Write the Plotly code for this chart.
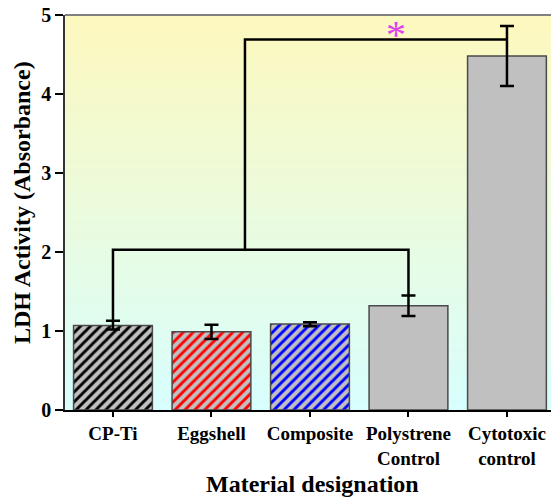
import plotly.graph_objects as go

# LDH release per material (absorbance), mean with upper/lower error
categories = ["CP-Ti", "Eggshell", "Composite", "Polystrene<br>Control", "Cytotoxic<br>control"]
ldh_mean = [1.07, 0.99, 1.09, 1.32, 4.48]
err_plus = [0.06, 0.09, 0.02, 0.13, 0.38]
err_minus = [0.05, 0.09, 0.03, 0.13, 0.38]
hatch_shape = ["/", "/", "/", "", ""]
hatch_color = ["#000000", "#ff0000", "#0000ff", "#000000", "#000000"]
y_ticks = [0, 1, 2, 3, 4, 5]

# significance bracket: the test materials vs. the cytotoxic control
bracket_left, bracket_right = 0, 3
bracket_low = 2.03
bracket_high = 4.69
stem_pos = 1.34
target_pos = 4
star_pos = 2.87
star_y = 4.86

W, H = 551, 497
L, R, T, B = 65, 0, 15, 87
FONT = "Liberation Serif, Times New Roman, serif"

xpos = list(range(len(categories)))

fig = go.Figure()

fig.add_trace(go.Bar(
    x=xpos, y=ldh_mean, width=0.8,
    marker=dict(
        color="#c0c0c0",
        line=dict(color="#4a4a4a", width=1.5),
        pattern=dict(shape=hatch_shape, fgcolor=hatch_color, bgcolor="#c0c0c0",
                     fgopacity=1, size=7, solidity=0.42),
    ),
    error_y=dict(type="data", array=err_plus, arrayminus=err_minus,
                 color="#000000", thickness=2.5, width=7),
    showlegend=False, hoverinfo="skip",
))

# lower bracket joining CP-Ti and Polystrene control
lo_top_left = ldh_mean[bracket_left] + err_plus[bracket_left]
lo_top_right = ldh_mean[bracket_right] + err_plus[bracket_right]
fig.add_trace(go.Scatter(
    x=[bracket_left, bracket_left, bracket_right, bracket_right],
    y=[lo_top_left, bracket_low, bracket_low, lo_top_right],
    mode="lines", line=dict(color="#000000", width=2.5),
    showlegend=False, hoverinfo="skip",
))
# stem up to the cytotoxic control
fig.add_trace(go.Scatter(
    x=[stem_pos, stem_pos, target_pos],
    y=[bracket_low, bracket_high, bracket_high],
    mode="lines", line=dict(color="#000000", width=2.5),
    showlegend=False, hoverinfo="skip",
))

# vertical yellow -> cyan background gradient
top_rgb = (253, 248, 190)
bot_rgb = (216, 254, 253)
n = 90
shapes = []
for i in range(n):
    f = i / (n - 1)
    c = tuple(round(top_rgb[k] + (bot_rgb[k] - top_rgb[k]) * f) for k in range(3))
    shapes.append(dict(
        type="rect", xref="paper", yref="paper", layer="below",
        x0=0, x1=1, y0=1 - (i + 1) / n, y1=1 - i / n + 0.002,
        fillcolor="rgb(%d,%d,%d)" % c, line=dict(width=0),
    ))
# top frame line
shapes.append(dict(type="line", xref="paper", yref="paper", x0=0, x1=1, y0=1, y1=1,
                   line=dict(color="#808080", width=2), layer="above"))

pw = W - L - R
ph = H - T - B
annotations = [
    dict(text="*", x=star_pos, y=star_y, xref="x", yref="y", showarrow=False,
         font=dict(family=FONT, size=40, color="#e040f0"), yanchor="middle", yshift=-8),
    dict(text="<b>LDH Activity (Absorbance)</b>", textangle=-90, showarrow=False,
         xref="paper", yref="paper", x=(22 - L) / pw, y=(H - B - 203) / ph,
         xanchor="center", yanchor="middle",
         font=dict(family=FONT, size=24, color="#000000")),
    dict(text="<b>Material designation</b>", showarrow=False,
         xref="paper", yref="paper", x=(312 - L) / pw, y=(H - B - 484) / ph,
         xanchor="center", yanchor="middle",
         font=dict(family=FONT, size=24, color="#000000")),
]

fig.update_layout(
    width=W, height=H,
    margin=dict(l=L, r=R, t=T, b=B, pad=0),
    paper_bgcolor="#ffffff", plot_bgcolor="#ffffff",
    shapes=shapes, annotations=annotations,
    bargap=0.2,
    xaxis=dict(
        range=[-0.487, -0.487 + pw / 98.5],
        tickvals=xpos, ticktext=["<b>%s</b>" % c for c in categories],
        tickfont=dict(family=FONT, size=19, color="#000000"),
        ticks="outside", ticklen=5, tickwidth=1.5, tickcolor="#000000",
        showline=True, linecolor="#000000", linewidth=2,
        showgrid=False, zeroline=False,
    ),
    yaxis=dict(
        range=[0, 5],
        tickvals=y_ticks, ticktext=["<b>%d</b>" % v for v in y_ticks],
        tickfont=dict(family=FONT, size=20, color="#000000"),
        ticks="outside", ticklen=8, tickwidth=1.5, tickcolor="#000000",
        showline=True, linecolor="#333333", linewidth=1.5,
        showgrid=False, zeroline=False,
    ),
)

fig.write_html("out.html")
